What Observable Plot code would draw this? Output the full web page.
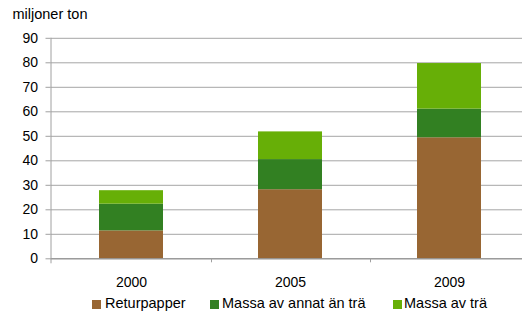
<!DOCTYPE html>
<html>
<head>
<meta charset="utf-8">
<script src="https://cdn.jsdelivr.net/npm/d3@7"></script>
<script src="https://cdn.jsdelivr.net/npm/@observablehq/plot@0.6"></script>
<style>
  html, body { margin: 0; padding: 0; background: #fff; }
  body { width: 522px; height: 315px; position: relative; overflow: hidden;
         font-family: "Liberation Sans", Arial, sans-serif; color: #000; }
  #title { position: absolute; left: 12.5px; top: 7px; font-size: 14.5px; line-height: 14.5px; }
  #chart { position: absolute; left: 0; top: 25px; }
  .leg { position: absolute; top: 296px; font-size: 14.5px; line-height: 14.5px; white-space: nowrap; }
  .sw { position: absolute; width: 8.5px; height: 8.5px; top: 300px; }
</style>
</head>
<body>
<div id="title">miljoner ton</div>
<div id="chart"></div>
<div id="legend"></div>
<script>
const years = ["2000", "2005", "2009"];
const seriesNames = ["Returpapper", "Massa av annat än trä", "Massa av trä"];
const returpapper = [11.4, 28.2, 49.4];
const massaAnnat = [10.9, 12.3, 11.7];
const massaTra = [5.5, 11.3, 18.6];
const colors = ["#986633", "#328022", "#67AF07"];
const yTicks = [0, 10, 20, 30, 40, 50, 60, 70, 80, 90];

const seriesValues = [returpapper, massaAnnat, massaTra];
const rows = [];
seriesNames.forEach((s, si) => {
  years.forEach((y, yi) => rows.push({year: y, series: s, value: seriesValues[si][yi]}));
});

const plot = Plot.plot({
  width: 522,
  height: 270,
  marginLeft: 50.5,
  marginRight: 0,
  marginTop: 12.8,
  marginBottom: 36.7,
  style: {fontFamily: "Liberation Sans, Arial, sans-serif", fontSize: "14px", color: "#000", background: "transparent"},
  x: {type: "band", domain: years, range: [50.5, 530], paddingInner: 0.6, paddingOuter: 0.3, align: 0.5},
  y: {domain: [0, 90]},
  color: {domain: seriesNames, range: colors},
  marks: [
    Plot.gridY({ticks: yTicks, stroke: "#a6a6a6", strokeOpacity: 1, strokeWidth: 1}),
    Plot.axisY({ticks: yTicks, tickSize: 5, tickPadding: 8, label: null, stroke: "#a0a0a0", fill: "#000", fontSize: 14}),
    Plot.barY(rows, {x: "year", y: "value", fill: "series"}),
    Plot.ruleY([0], {stroke: "#8c8c8c", strokeWidth: 1}),
    Plot.frame({anchor: "left", stroke: "#a0a0a0", insetBottom: -4}),
    Plot.ruleX(years.slice(0, 2), {x: d => d, dx: 80, y1: 0, y2: 0, insetBottom: -4, stroke: "#a0a0a0"}),
    Plot.axisX({tickSize: 0, tickPadding: 18, label: null, fill: "#000", fontSize: 14})
  ]
});
document.getElementById("chart").appendChild(plot);

const legend = document.getElementById("legend");
const swX = [92.3, 210, 393];
const txX = [105, 222, 404];
seriesNames.forEach((s, i) => {
  const sw = document.createElement("div");
  sw.className = "sw";
  sw.style.left = swX[i] + "px";
  sw.style.background = colors[i];
  legend.appendChild(sw);
  const t = document.createElement("div");
  t.className = "leg";
  t.style.left = txX[i] + "px";
  t.textContent = s;
  legend.appendChild(t);
});
</script>
</body>
</html>
